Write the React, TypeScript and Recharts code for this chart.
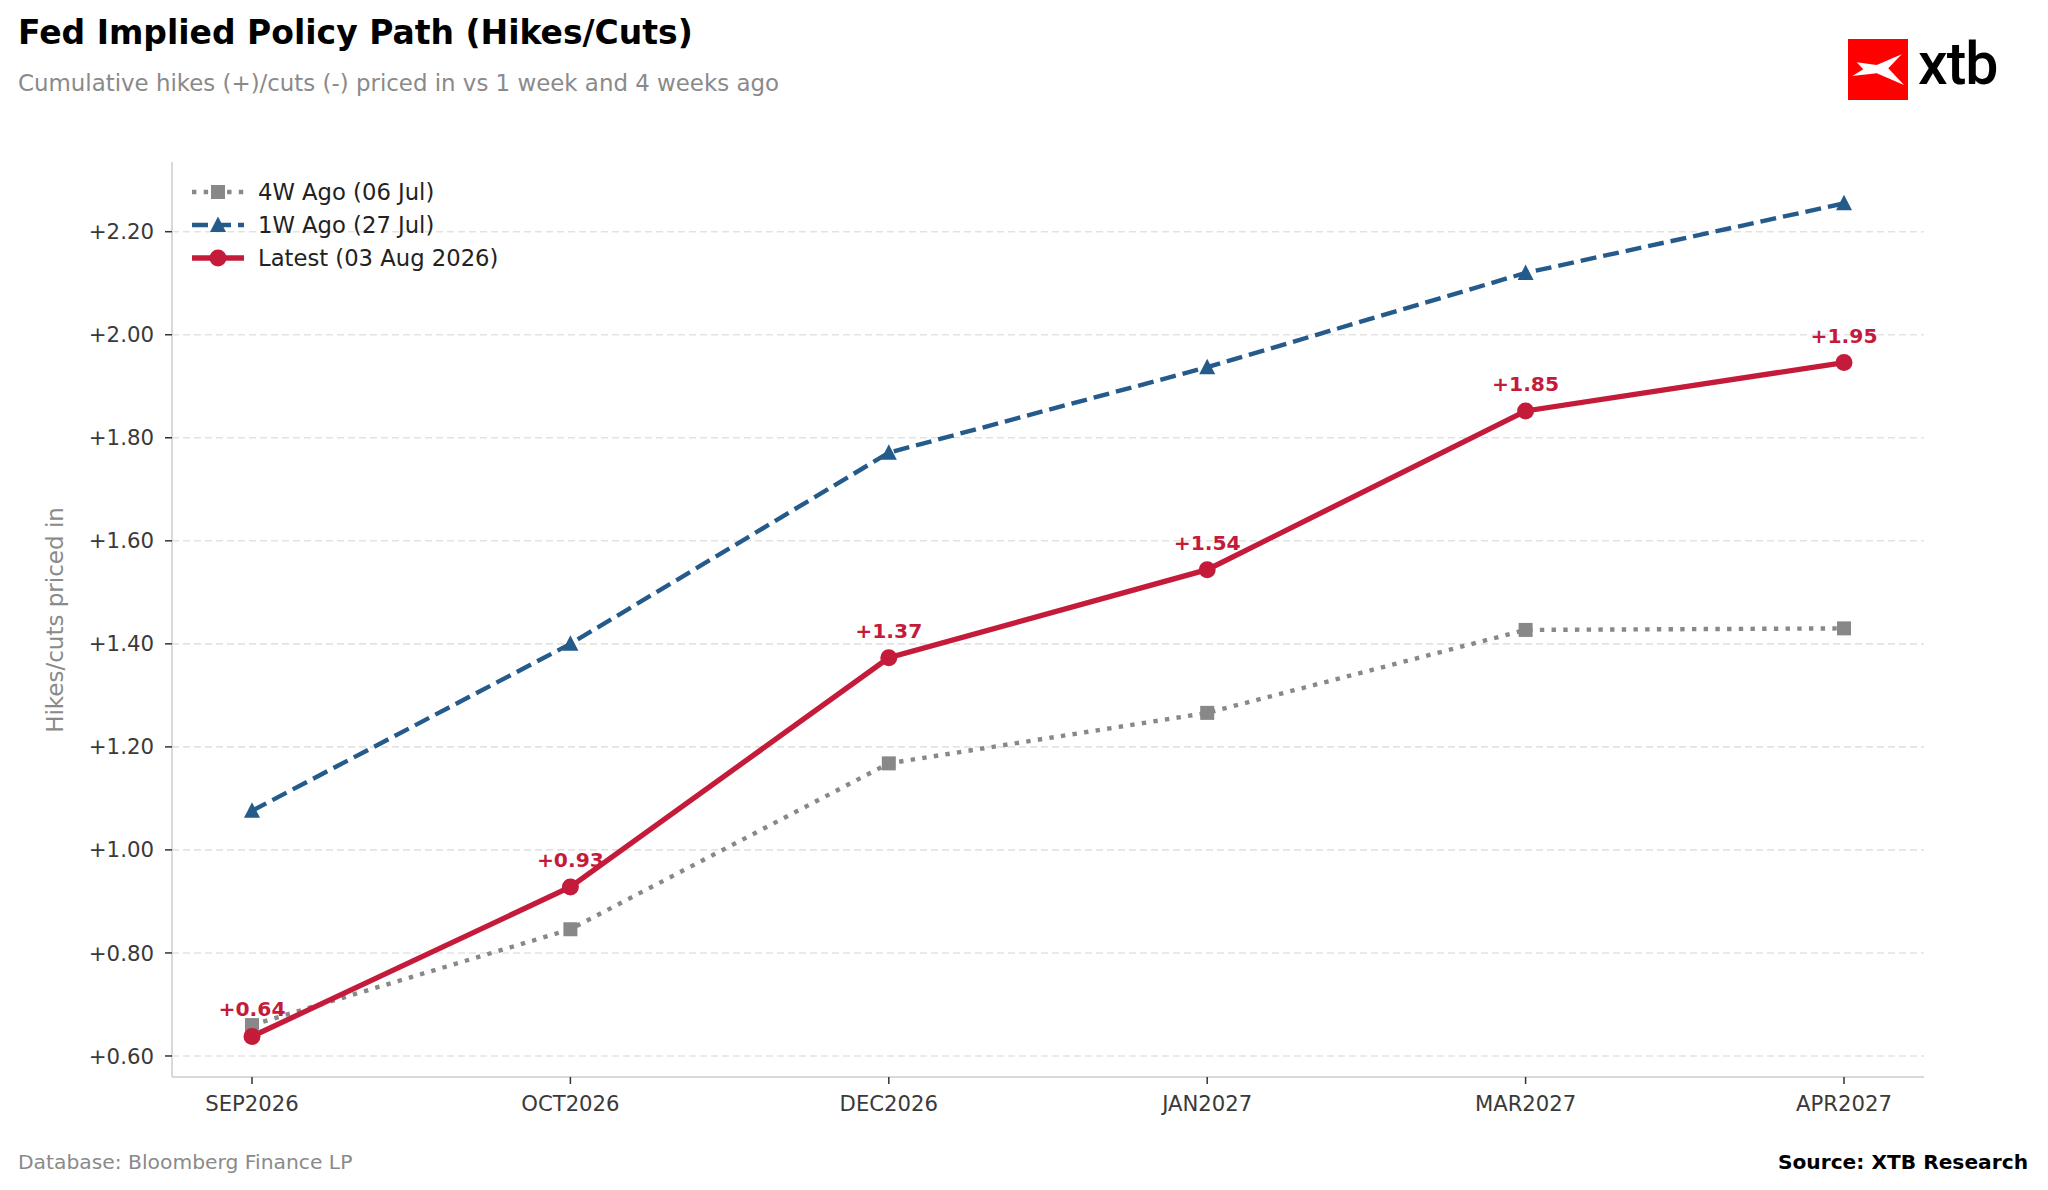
import React from 'react';
import { LineChart, Line, XAxis, YAxis, CartesianGrid, Legend, LabelList, Label } from 'recharts';

// values
const months = ['SEP2026', 'OCT2026', 'DEC2026', 'JAN2027', 'MAR2027', 'APR2027'];
const fourWeeksAgo = [0.66, 0.846, 1.168, 1.266, 1.427, 1.43];
const oneWeekAgo = [1.076, 1.4, 1.771, 1.937, 2.12, 2.255];
const latest = [0.638, 0.928, 1.373, 1.544, 1.852, 1.946];
const yTicks = [0.6, 0.8, 1.0, 1.2, 1.4, 1.6, 1.8, 2.0, 2.2];
const seriesNames = ['4W Ago (06 Jul)', '1W Ago (27 Jul)', 'Latest (03 Aug 2026)'];

const GRAY = '#888888';
const BLUE = '#255b8b';
const RED = '#c51b3a';
const FONT = '"DejaVu Sans", Verdana, sans-serif';

const data = months.map((m, i) => ({
  month: m,
  w4: fourWeeksAgo[i],
  w1: oneWeekAgo[i],
  latest: latest[i],
}));

const fmt = (v: number) => `+${v.toFixed(2)}`;

const SquareDot = (props: any) => {
  const { cx, cy, index } = props;
  return <rect key={`sq-${index}`} x={cx - 7} y={cy - 7} width={14} height={14} fill={GRAY} />;
};

const TriangleDot = (props: any) => {
  const { cx, cy, index } = props;
  return (
    <path
      key={`tri-${index}`}
      d={`M${cx},${cy - 8.5} L${cx + 8},${cy + 7} L${cx - 8},${cy + 7} Z`}
      fill={BLUE}
    />
  );
};

const legendRows = [
  { name: seriesNames[0], color: GRAY, dash: '4.4 7.3', width: 4.4, marker: 'square' },
  { name: seriesNames[1], color: BLUE, dash: '16 7', width: 4.4, marker: 'triangle' },
  { name: seriesNames[2], color: RED, dash: undefined, width: 5.3, marker: 'circle' },
];

const renderLegend = () => (
  <div style={{ fontFamily: FONT, fontSize: 22.7, color: '#222' }}>
    {legendRows.map((r) => (
      <div key={r.name} style={{ display: 'flex', alignItems: 'center', height: 33 }}>
        <svg width={54} height={22} style={{ display: 'block' }}>
          <line x1={1} y1={11} x2={53} y2={11} stroke={r.color} strokeWidth={r.width} strokeDasharray={r.dash} />
          {r.marker === 'square' && <rect x={20} y={4} width={14} height={14} fill={r.color} />}
          {r.marker === 'triangle' && <path d="M27,2.5 L35,18 L19,18 Z" fill={r.color} />}
          {r.marker === 'circle' && <circle cx={27} cy={11} r={8.5} fill={r.color} />}
        </svg>
        <span style={{ marginLeft: 13, whiteSpace: 'nowrap' }}>{r.name}</span>
      </div>
    ))}
  </div>
);

const YLabel = () => (
  <text
    x={55}
    y={620}
    transform="rotate(-90, 55, 620)"
    textAnchor="middle"
    dominantBaseline="central"
    fill="#8a8a8a"
    fontSize={23}
    fontFamily={FONT}
  >
    Hikes/cuts priced in
  </text>
);

export default function App() {
  return (
    <div style={{ position: 'relative', width: 2048, height: 1190, background: '#fff', fontFamily: FONT }}>
      <style>{'body{margin:0}'}</style>
      <div style={{ position: 'absolute', left: 18, top: 12.5, fontSize: 33, fontWeight: 700, color: '#000', whiteSpace: 'nowrap' }}>
        Fed Implied Policy Path (Hikes/Cuts)
      </div>
      <div style={{ position: 'absolute', left: 18, top: 69.5, fontSize: 22.9, color: '#8a8a8a', whiteSpace: 'nowrap' }}>
        Cumulative hikes (+)/cuts (-) priced in vs 1 week and 4 weeks ago
      </div>

      {/* logo */}
      <svg style={{ position: 'absolute', left: 1848, top: 39 }} width={60} height={61}>
        <rect x={0} y={0} width={60} height={61} fill="#ff0000" />
        <path
          d="M8.7,23.3 L28.7,26 L53.7,15.3 L40.3,29.3 L56,46 L28.7,34.3 L4.3,37 L15.3,30.3 Z"
          fill="#fff"
        />
      </svg>
      <div style={{ position: 'absolute', left: 1918, top: 29, fontSize: 59, fontWeight: 500, fontFamily: 'Roboto, sans-serif', color: '#000', letterSpacing: -1, lineHeight: '70px' }}>
        xtb
      </div>

      <div style={{ position: 'absolute', left: 0, top: 0 }}>
        <LineChart width={2048} height={1190} data={data} margin={{ top: 162, right: 124, bottom: 0, left: 0 }}>
          <CartesianGrid
            vertical={false}
            horizontalValues={yTicks}
            stroke="#e3e3e3"
            strokeWidth={1.6}
            strokeDasharray="7 4"
          />
          <XAxis
            dataKey="month"
            height={113}
            padding={{ left: 80, right: 80 }}
            axisLine={{ stroke: '#d9d9d9', strokeWidth: 2 }}
            tickLine={{ stroke: '#333', strokeWidth: 1.5 }}
            tickSize={7}
            tickMargin={12}
            tick={{ fill: '#3a3a3a', fontSize: 21.2, fontFamily: FONT }}
            interval={0}
          />
          <YAxis
            width={172}
            domain={[0.5592, 2.3353]}
            allowDataOverflow
            ticks={yTicks}
            tickFormatter={fmt}
            axisLine={{ stroke: '#d9d9d9', strokeWidth: 2 }}
            tickLine={{ stroke: '#333', strokeWidth: 1.5 }}
            tickSize={7}
            tickMargin={11}
            tick={{ fill: '#3a3a3a', fontSize: 21.3, fontFamily: FONT }}
          >
            <Label content={<YLabel />} />
          </YAxis>
          <Legend
            layout="vertical"
            align="center"
            verticalAlign="middle"
            content={renderLegend}
            wrapperStyle={{ top: 175.7, left: 191, width: 'auto' }}
          />
          <Line
            dataKey="w4"
            name={seriesNames[0]}
            stroke={GRAY}
            strokeWidth={4.4}
            strokeDasharray="4.4 7.3"
            dot={SquareDot}
            activeDot={false}
            isAnimationActive={false}
          />
          <Line
            dataKey="w1"
            name={seriesNames[1]}
            stroke={BLUE}
            strokeWidth={4.4}
            strokeDasharray="16 7"
            dot={TriangleDot}
            activeDot={false}
            isAnimationActive={false}
          />
          <Line
            dataKey="latest"
            name={seriesNames[2]}
            stroke={RED}
            strokeWidth={5.3}
            dot={{ r: 8.5, fill: RED, stroke: RED, strokeWidth: 0 }}
            activeDot={false}
            isAnimationActive={false}
          >
            <LabelList
              dataKey="latest"
              position="top"
              offset={20}
              formatter={(v: any) => fmt(Number(v))}
              fill={RED}
              fontSize={20.3}
              fontWeight={700}
              fontFamily={FONT}
            />
          </Line>
        </LineChart>
      </div>

      <div style={{ position: 'absolute', left: 18, top: 1150, fontSize: 20.3, color: '#8a8a8a', whiteSpace: 'nowrap' }}>
        Database: Bloomberg Finance LP
      </div>
      <div style={{ position: 'absolute', right: 20, top: 1150, fontSize: 20.2, fontWeight: 700, color: '#000', whiteSpace: 'nowrap' }}>
        Source: XTB Research
      </div>
    </div>
  );
}
